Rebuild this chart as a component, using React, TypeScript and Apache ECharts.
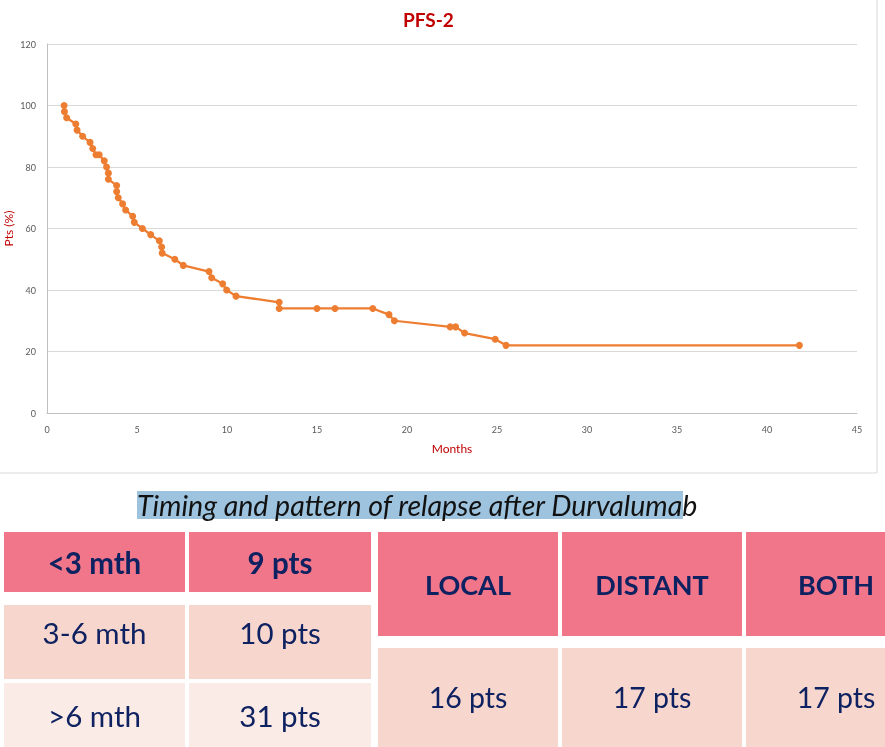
import React, { useEffect, useRef } from "react";
import * as echarts from "echarts";

// PFS-2 curve: months vs patients (%)
const months = [0.95, 0.97, 1.09, 1.6, 1.67, 1.98, 2.39, 2.54, 2.72, 2.9, 3.18, 3.31, 3.41, 3.41, 3.87, 3.87, 3.96, 4.2, 4.37, 4.76, 4.85, 5.3, 5.76, 6.24, 6.37, 6.4, 7.1, 7.57, 9.0, 9.15, 9.76, 9.98, 10.5, 12.9, 12.9, 15.0, 16.0, 18.1, 19.0, 19.3, 22.4, 22.7, 23.2, 24.9, 25.5, 41.8];
const ptsPct = [100, 98, 96, 94, 92, 90, 88, 86, 84, 84, 82, 80, 78, 76, 74, 72, 70, 68, 66, 64, 62, 60, 58, 56, 54, 52, 50, 48, 46, 44, 42, 40, 38, 36, 34, 34, 34, 34, 32, 30, 28, 28, 26, 24, 22, 22];

const chartTitle = "PFS-2";
const xName = "Months";
const yName = "Pts (%)";
const tableTitle = "Timing and pattern of relapse after Durvalumab";

// Table: timing
const timingLabels = ["<3 mth", "3-6 mth", ">6 mth"];
const timingCounts = ["9 pts", "10 pts", "31 pts"];
// Table: pattern
const patternLabels = ["LOCAL", "DISTANT", "BOTH"];
const patternCounts = ["16 pts", "17 pts", "17 pts"];

const FONT = "Lato, 'Open Sans', sans-serif";
const NAVY = "#0e2160";
const PINK = "#f27689";
const PEACH = "#f7d6cd";
const LIGHT = "#fbebe7";

function txt(text: string, x: number, y: number, size: number, bold: boolean, extra: any = {}) {
  return {
    type: "text",
    x,
    y,
    z: 10,
    style: {
      text,
      fill: NAVY,
      fontSize: size,
      fontWeight: bold ? "bold" : "normal",
      fontFamily: FONT,
      align: "center",
      verticalAlign: "middle",
      textAlign: "center",
      textVerticalAlign: "middle",
      ...extra,
    },
  };
}

function box(x: number, y: number, w: number, h: number, fill: string) {
  return { type: "rect", shape: { x, y, width: w, height: h }, style: { fill }, z: 5 };
}

export default function App() {
  const ref = useRef<HTMLDivElement>(null);
  useEffect(() => {
    if (!ref.current) return;
    const chart = echarts.init(ref.current, null, { renderer: "svg" });

    const rowTops = [532, 605, 683];
    const rowHeights = [60, 74, 64];
    const rowTextY = [562, 632, 715];
    const leftCols = [4, 189];
    const leftW = [181, 182];
    const rightCols = [378, 562, 746];
    const rightW = [180, 180, 180];
    const rowFills = [PINK, PEACH, LIGHT];

    const graphics: any[] = [
      { type: "rect", shape: { x: -2, y: -2, width: 879, height: 475 }, style: { fill: "none", stroke: "#d9d9d9", lineWidth: 1 }, z: 1 },
      box(137, 491, 546, 28, "#9dc3de"),
      {
        type: "text",
        x: 137,
        y: 505,
        z: 10,
        style: {
          text: tableTitle,
          fill: "#111",
          fontSize: 28.5,
          fontStyle: "italic",
          fontFamily: FONT,
          align: "left",
          verticalAlign: "middle",
          textAlign: "left",
          textVerticalAlign: "middle",
        },
      },
    ];

    timingLabels.forEach((lab, i) => {
      const bold = i === 0;
      const cy = rowTextY[i];
      graphics.push(box(leftCols[0], rowTops[i], leftW[0], rowHeights[i], rowFills[i]));
      graphics.push(box(leftCols[1], rowTops[i], leftW[1], rowHeights[i], rowFills[i]));
      graphics.push(txt(lab, leftCols[0] + leftW[0] / 2, cy, 29.5, bold));
      graphics.push(txt(timingCounts[i], leftCols[1] + leftW[1] / 2, cy, 29.5, bold));
    });

    patternLabels.forEach((lab, i) => {
      graphics.push(box(rightCols[i], 532, rightW[i], 104, PINK));
      graphics.push(box(rightCols[i], 648, rightW[i], 99, PEACH));
      graphics.push(txt(lab, rightCols[i] + rightW[i] / 2, 584, 27, true));
      graphics.push(txt(patternCounts[i], rightCols[i] + rightW[i] / 2, 697, 28.5, false));
    });

    chart.setOption({
      animation: false,
      title: {
        text: chartTitle,
        left: 398,
        top: 5,
        textStyle: { color: "#c00000", fontSize: 19, fontWeight: "bold", fontFamily: FONT },
      },
      grid: { left: 47, right: 28, top: 44, bottom: 334, containLabel: false, outerBoundsMode: "none" },
      xAxis: {
        type: "value",
        min: 0,
        max: 45,
        interval: 5,
        name: xName,
        nameLocation: "middle",
        nameGap: 29,
        nameMoveOverlap: false,
        nameTextStyle: { color: "#c00000", fontSize: 12, fontFamily: FONT },
        axisLine: { show: true, lineStyle: { color: "#bfbfbf", width: 1 } },
        axisTick: { show: false },
        axisLabel: { color: "#595959", fontSize: 9, fontFamily: FONT, margin: 12 },
        splitLine: { show: false },
      },
      yAxis: {
        type: "value",
        min: 0,
        max: 120,
        interval: 20,
        name: yName,
        nameLocation: "middle",
        nameGap: 39,
        nameMoveOverlap: false,
        nameRotate: 90,
        nameTextStyle: { color: "#c00000", fontSize: 12, fontFamily: FONT, verticalAlign: "middle" },
        axisLine: { show: true, lineStyle: { color: "#bfbfbf", width: 1 } },
        axisTick: { show: false },
        axisLabel: { color: "#595959", fontSize: 9, fontFamily: FONT, margin: 11 },
        splitLine: { show: true, lineStyle: { color: "#d9d9d9", width: 1 } },
      },
      series: [
        {
          type: "line",
          data: months.map((m, i) => [m, ptsPct[i]]),
          symbol: "circle",
          symbolSize: 7,
          showSymbol: true,
          lineStyle: { color: "#ed7d31", width: 2.25 },
          itemStyle: { color: "#ed7d31" },
        },
      ],
      graphic: graphics,
    });
    return () => chart.dispose();
  }, []);
  return <div ref={ref} style={{ position: "fixed", left: 0, top: 0, width: 885, height: 747 }} />;
}
